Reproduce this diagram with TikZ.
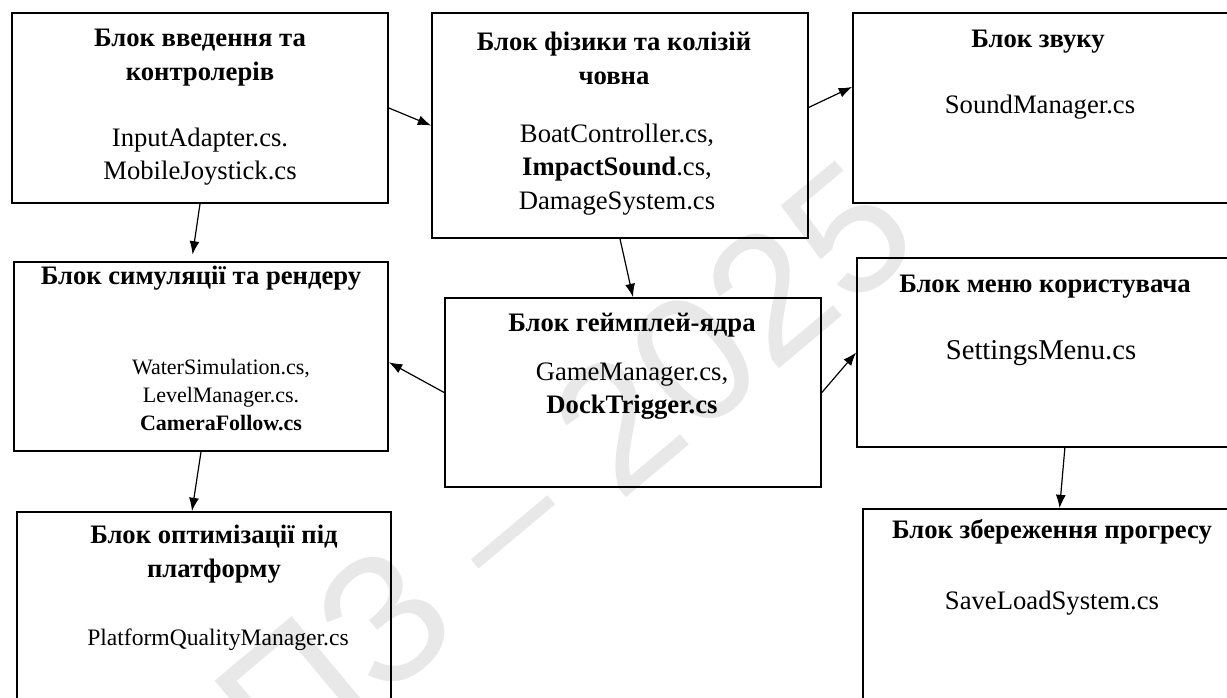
\documentclass[tikz,border=0pt]{standalone}
\usepackage{fontspec}
\setmainfont{Liberation Serif}
\newfontfamily\wmfont{Liberation Sans}
\usetikzlibrary{arrows.meta,calc,fit}

\begin{document}
\begin{tikzpicture}[x=0.75pt,y=0.75pt,yscale=-1,xscale=1,
  blok/.style={draw, line width=1.3pt, inner sep=0pt},
  ttl/.style={align=center, inner sep=0.75pt, font=\fontsize{20}{25}\selectfont\bfseries},
  fls/.style={align=center, inner sep=0.75pt, font=\fontsize{20}{25}\selectfont},
  arr/.style={-{Latex[length=10pt,width=7.5pt]}, line width=0.9pt},
  wmark/.style={text=black!9, font=\wmfont\fontsize{135}{135}\selectfont, inner sep=0pt}]
\useasboundingbox (0,0) rectangle (1227,697);
\clip (0,0) rectangle (1227,697);

% Watermark
\node [wmark, rotate=40] (wm) at (565,468) {ПЗ – 2025};

%Shape: Rectangle
\node [blok, fit={(12,13) (388,203)}] (input) {};
\node [blok, fit={(432,13) (808,238)}] (phys) {};
\node [blok, fit={(853,13) (1228,203)}] (sound) {};
\node [blok, fit={(14,262) (388,451)}] (sim) {};
\node [blok, fit={(445,298) (821,487)}] (game) {};
\node [blok, fit={(857,258) (1228,447)}] (menu) {};
\node [blok, fit={(17,512) (391,720)}] (opt) {};
\node [blok, fit={(863,509) (1241,720)}] (save) {};

% Text Node
\node [ttl] (inputttl) at (200,57.5) {Блок введення та\\контролерів};
\node [fls] (inputfls) at (200,156.5) {InputAdapter.cs.\\MobileJoystick.cs};
% Text Node
\node [ttl] (physttl) at (614,58.5) {Блок фізики та колізій\\човна};
\node [fls] (physfls) at (617,169.5) {BoatController.cs,\\\textbf{ImpactSound}.cs,\\DamageSystem.cs};
% Text Node
\node [ttl] (soundttl) at (1038,42) {Блок звуку};
\node [fls] (soundfls) at (1040,107) {SoundManager.cs};
% Text Node
\node [ttl] (simttl) at (201,278) {Блок симуляції та рендеру};
\node [fls, font=\fontsize{16.5}{21}\selectfont] (simfls) at (221,395) {WaterSimulation.cs,\\LevelManager.cs.\\\textbf{CameraFollow.cs}};
% Text Node
\node [ttl] (gamettl) at (632,325) {Блок геймплей-ядра};
\node [fls] (gamefls) at (632,391) {GameManager.cs,\\\textbf{DockTrigger.cs}};
% Text Node
\node [ttl] (menuttl) at (1045,287) {Блок меню користувача};
\node [fls, font=\fontsize{21.5}{25}\selectfont] (menufls) at (1041,353) {SettingsMenu.cs};
% Text Node
\node [ttl] (optttl) at (214,554) {Блок оптимізації під\\платформу};
\node [fls, font=\fontsize{17.7}{25}\selectfont] (optfls) at (218,640) {PlatformQualityManager.cs};
% Text Node
\node [ttl] (savettl) at (1052,532) {Блок збереження прогресу};
\node [fls] (savefls) at (1052,603) {SaveLoadSystem.cs};

%Straight Lines
\draw [arr] (input.east) -- (phys.west);
\draw [arr] ($(phys.north east)!0.42!(phys.south east)$) -- ($(sound.north west)!0.39!(sound.south west)$);
\draw [arr, shorten >=5pt] (input.south) -- ($(sim.north west)!0.475!(sim.north east)$);
\draw [arr] (phys.south) -- (game.north);
\draw [arr] (game.west) -- ($(sim.north east)!0.53!(sim.south east)$);
\draw [arr] (game.east) -- (menu.west);
\draw [arr] (sim.south) -- ($(opt.north west)!0.468!(opt.north east)$);
\draw [arr] ($(menu.south west)!0.56!(menu.south east)$) -- ($(save.north west)!0.52!(save.north east)$);

\end{tikzpicture}
\end{document}
